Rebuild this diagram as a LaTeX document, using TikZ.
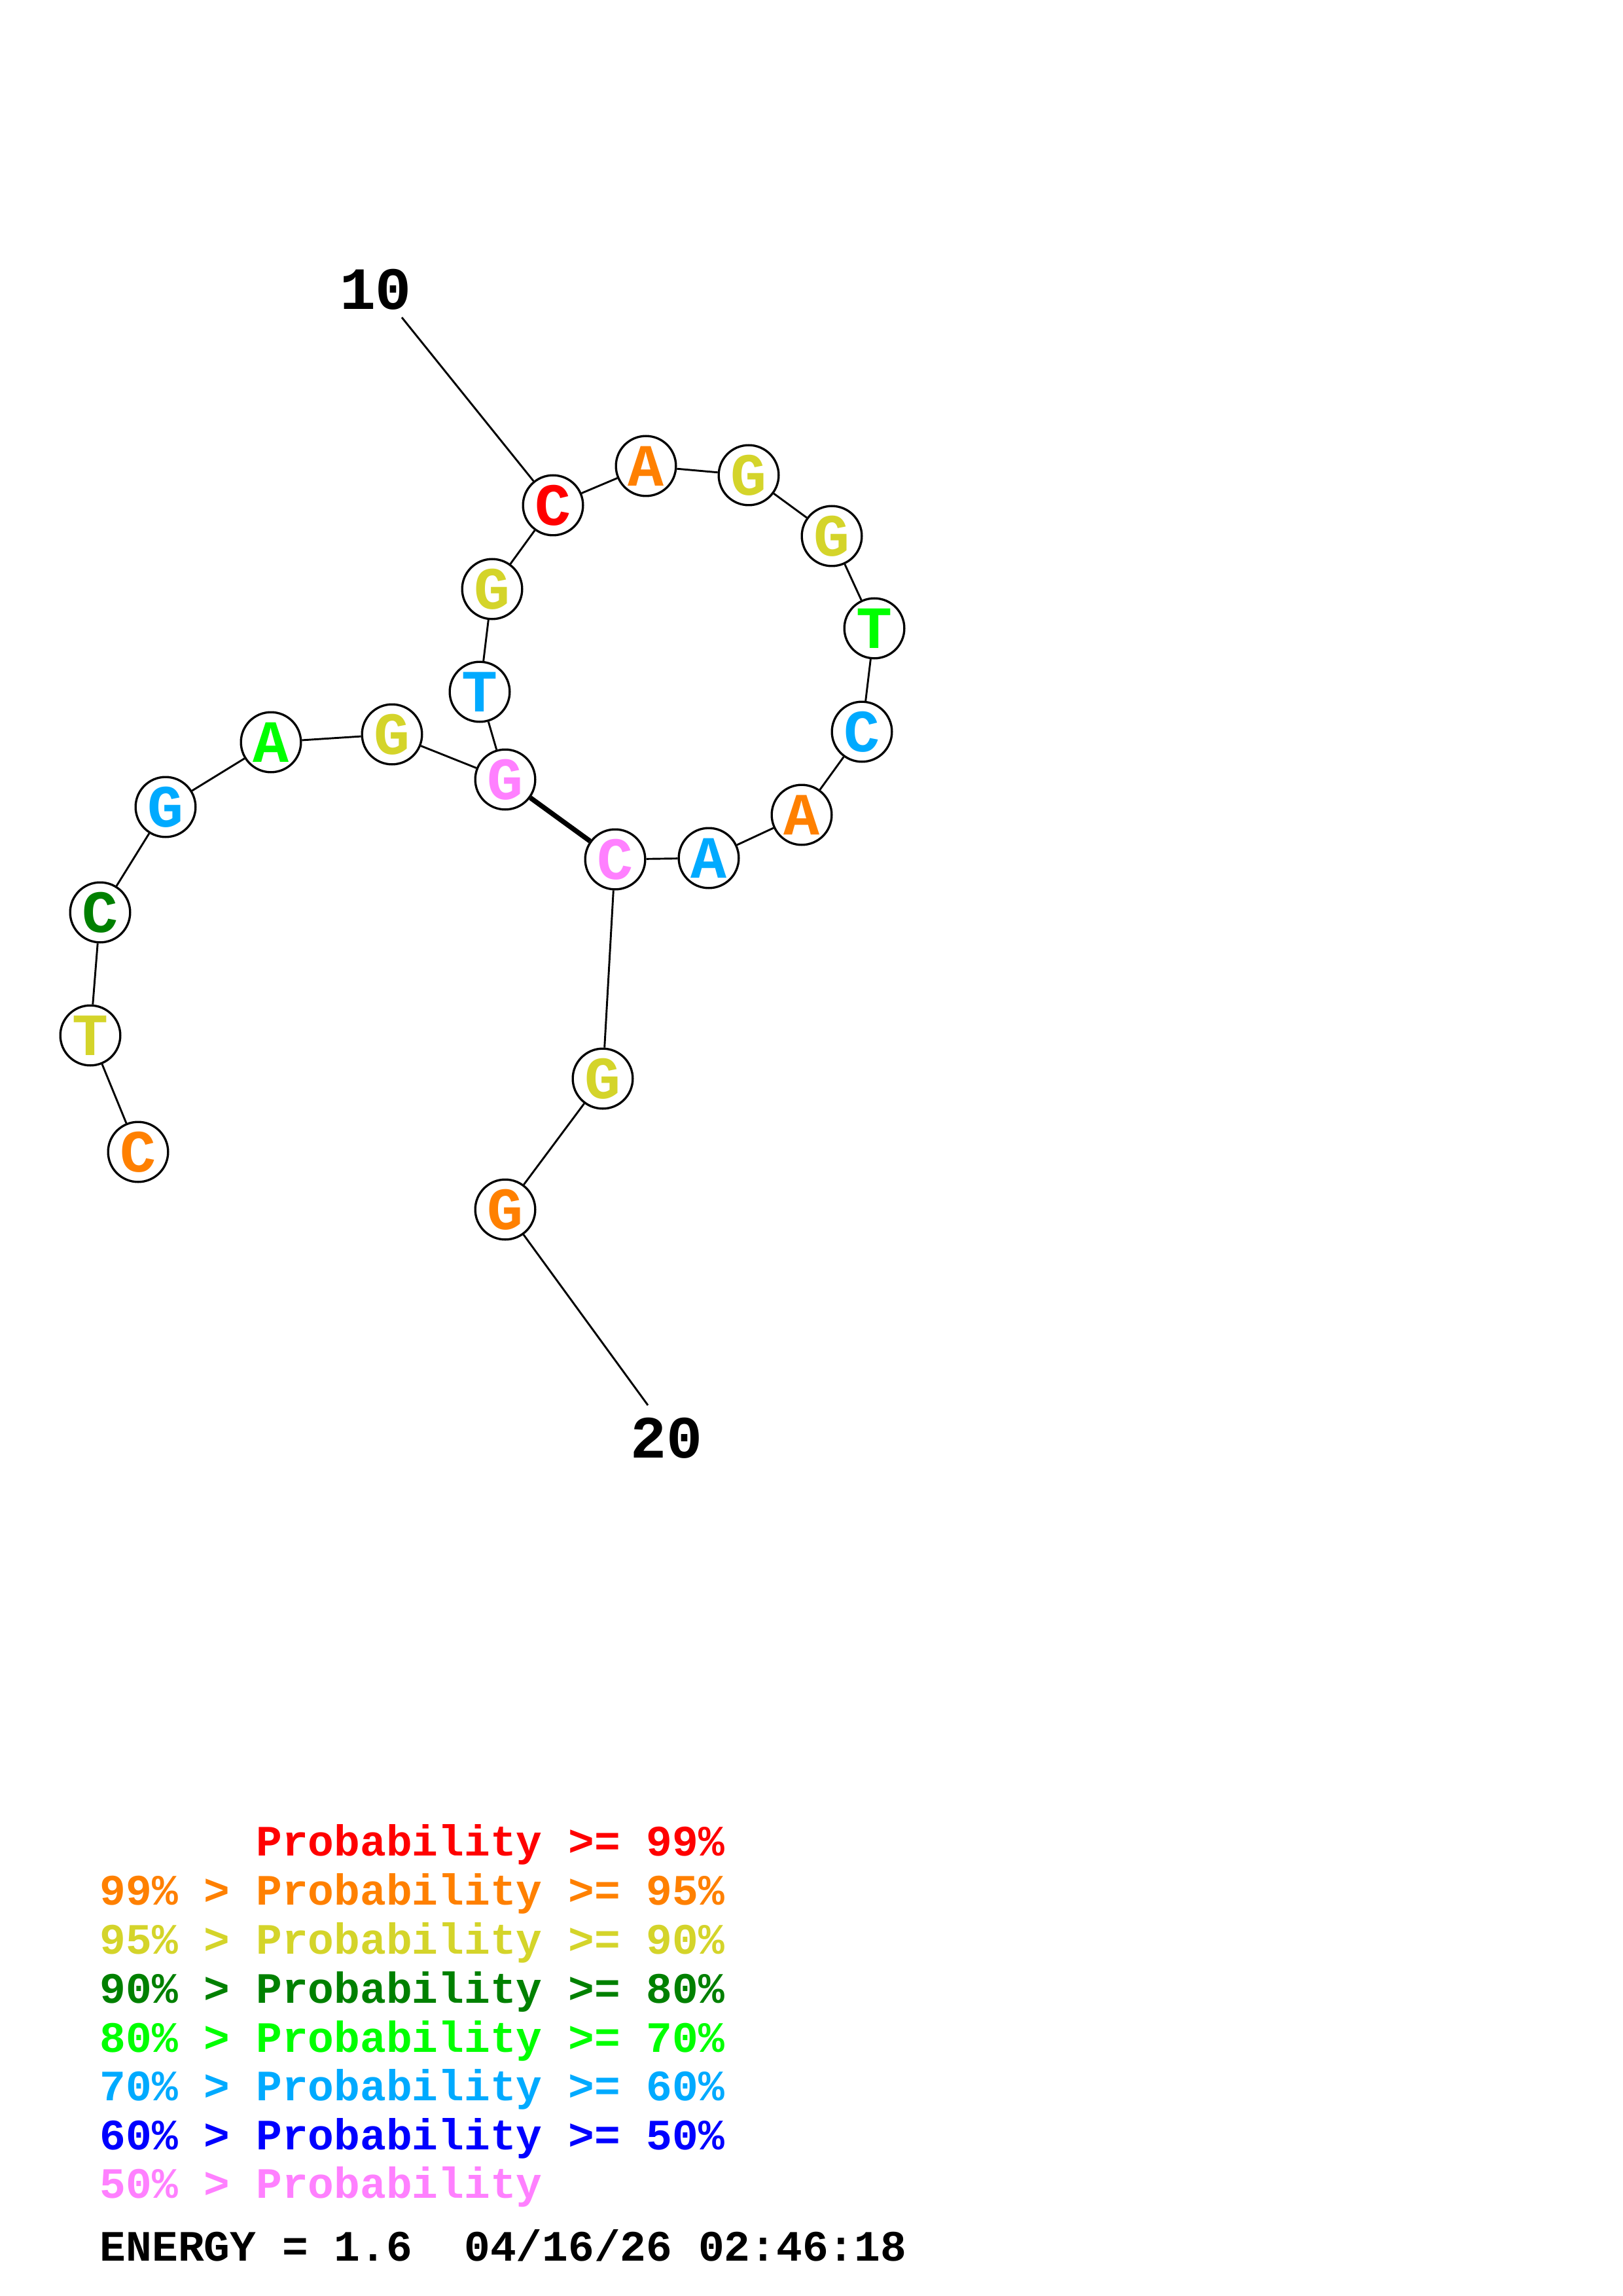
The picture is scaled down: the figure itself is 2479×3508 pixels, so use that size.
\documentclass[tikz,border=0pt]{standalone}
\usepackage{fontspec}
\setmonofont{Liberation Mono}

\definecolor{prob99}{RGB}{255,0,0}
\definecolor{prob95}{RGB}{255,128,0}
\definecolor{prob90}{RGB}{212,212,42}
\definecolor{prob80}{RGB}{0,128,0}
\definecolor{prob70}{RGB}{0,255,0}
\definecolor{prob60}{RGB}{0,170,255}
\definecolor{prob50}{RGB}{0,0,255}
\definecolor{prob00}{RGB}{255,128,255}

\tikzset{
  base/.style={circle,draw,fill=white,line width=0.8pt,minimum size=22pt,
    inner sep=0pt,font=\ttfamily\bfseries\fontsize{22}{22}\selectfont},
  bond/.style={line width=0.7pt},
  pair bond/.style={line width=1.8pt},
  pos label/.style={inner sep=0pt,font=\ttfamily\bfseries\fontsize{22}{22}\selectfont},
  legend/.style={anchor=base west,inner sep=0pt,
    font=\ttfamily\bfseries\fontsize{15.9}{16}\selectfont}
}

\begin{document}
\begin{tikzpicture}[x=0.24pt,y=-0.24pt]
	    \useasboundingbox (0,0) rectangle (2479,3508);

	    % Place the bases along the chain
	    \node [base,text=prob95] (b1) at (211,1760) {C};
	    \node [base,text=prob90] (b2) at (138,1582) {T};
	    \node [base,text=prob80] (b3) at (153,1394) {C};
	    \node [base,text=prob60] (b4) at (253,1233) {G};
	    \node [base,text=prob70] (b5) at (414,1134) {A};
	    \node [base,text=prob90] (b6) at (599,1122) {G};
	    \node [base,text=prob00] (b7) at (772,1191) {G};
	    \node [base,text=prob60] (b8) at (733,1057) {T};
	    \node [base,text=prob90] (b9) at (752,900) {G};
	    \node [base,text=prob99] (b10) at (845,772) {C};
	    \node [base,text=prob95] (b11) at (987,712) {A};
	    \node [base,text=prob90] (b12) at (1144,726) {G};
	    \node [base,text=prob90] (b13) at (1271,819) {G};
	    \node [base,text=prob70] (b14) at (1336,960) {T};
	    \node [base,text=prob60] (b15) at (1317,1118) {C};
	    \node [base,text=prob95] (b16) at (1225,1245) {A};
	    \node [base,text=prob60] (b17) at (1083,1311) {A};
	    \node [base,text=prob00] (b18) at (940,1313) {C};
	    \node [base,text=prob90] (b19) at (921,1648) {G};
	    \node [base,text=prob95] (b20) at (772,1848) {G};

	    % Join neighbours on the backbone
	    \draw [bond] (b1) -- (b2) -- (b3) -- (b4) -- (b5) -- (b6) -- (b7)
		-- (b8) -- (b9) -- (b10) -- (b11) -- (b12) -- (b13) -- (b14)
		-- (b15) -- (b16) -- (b17) -- (b18) -- (b19) -- (b20);

	    % The one base pair
	    \draw [pair bond] (b7) -- (b18);

	    % Position marks
	    \node [pos label] (pos 10) at (574,442) {10};
	    \coordinate (pos 10 end) at (614,485);
	    \draw [bond] (pos 10 end) -- (b10);
	    \node [pos label] (pos 20) at (1018,2197) {20};
	    \coordinate (pos 20 end) at (990,2147);
	    \draw [bond] (b20) -- (pos 20 end);

	    % Colour key
	    \node [legend,text=prob99] (key 99) at (152,2835) {\phantom{99\% > }Probability >= 99\%};
	    \node [legend,text=prob95] (key 95) at (152,2910) {99\% > Probability >= 95\%};
	    \node [legend,text=prob90] (key 90) at (152,2985) {95\% > Probability >= 90\%};
	    \node [legend,text=prob80] (key 80) at (152,3060) {90\% > Probability >= 80\%};
	    \node [legend,text=prob70] (key 70) at (152,3135) {80\% > Probability >= 70\%};
	    \node [legend,text=prob60] (key 60) at (152,3209) {70\% > Probability >= 60\%};
	    \node [legend,text=prob50] (key 50) at (152,3284) {60\% > Probability >= 50\%};
	    \node [legend,text=prob00] (key 00) at (152,3358) {50\% > Probability};
	    \node [legend] (energy) at (152,3454) {ENERGY = 1.6\ \ 04/16/26 02:46:18};
	\end{tikzpicture}
\end{document}
